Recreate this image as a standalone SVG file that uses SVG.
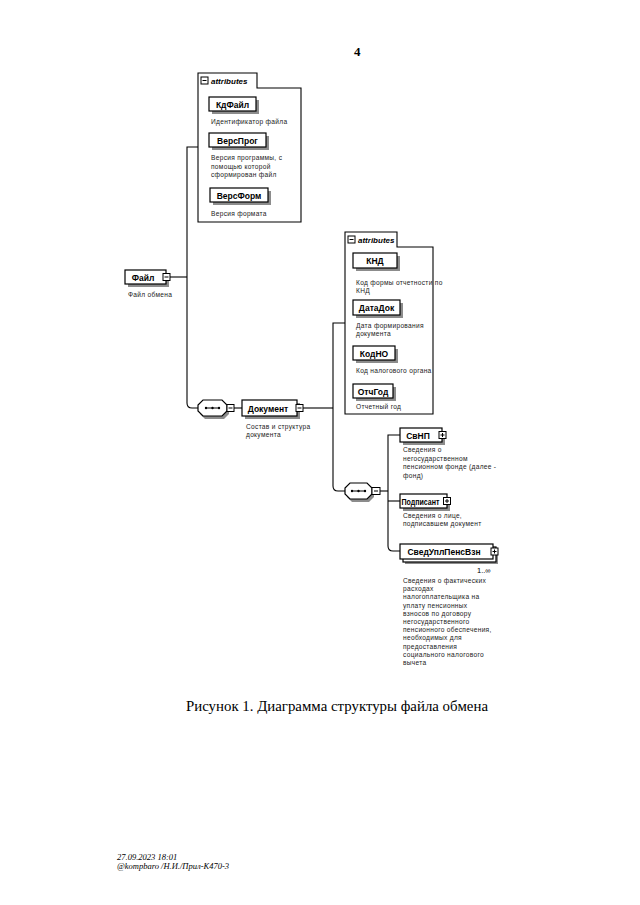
<svg xmlns="http://www.w3.org/2000/svg" width="640" height="905" viewBox="0 0 640 905">
<style>
.bx{fill:#fff;stroke:#000;stroke-width:1.2}
.sh{fill:#8c8c8c}
.ln{fill:none;stroke:#000;stroke-width:1.1}
.lb{font-family:"Liberation Sans",Arial,sans-serif;font-weight:bold;font-size:8.5px;fill:#000;text-anchor:middle}
.ds{font-family:"Liberation Sans",Arial,sans-serif;font-size:6.6px;fill:#222;letter-spacing:0.3px}
.at{font-family:"Liberation Sans",Arial,sans-serif;font-style:italic;font-weight:bold;font-size:8px;fill:#000}
.ic{fill:#fff;stroke:#000;stroke-width:1}
.sg{stroke:#000;stroke-width:1;fill:none}
</style>
<rect width="640" height="905" fill="#fff"/>
<text x="354" y="56" font-family="Liberation Serif,serif" font-size="13" font-weight="bold">4</text>

<g id="connectors">
<path class="ln" d="M170,277 H187"/>
<path class="ln" d="M198,147 H187 V403 Q187,408 192,408 H198"/>
<path class="ln" d="M234,408 H242"/>
<path class="ln" d="M303,408 H333"/>
<path class="ln" d="M345,323 H333 V486 Q333,491 338,491 H345"/>
<path class="ln" d="M380,491 H388"/>
<path class="ln" d="M400,435 H388 V546 Q388,551 393,551 H400"/>
<path class="ln" d="M388,501 H400"/>
</g>

<g id="attributes1">
<path class="ln" d="M198,88 V73 H257 V88 H301 V222 H198 Z" fill="#fff"/>
<rect class="ic" x="201" y="77" width="7" height="7"/>
<path class="sg" d="M202.5,80.5 H206.5"/>
<text class="at" x="211" y="83.5">attributes</text>
</g>
<g id="КдФайл">
<rect class="sh" x="212" y="100" width="47" height="14"/>
<rect class="bx" x="209" y="97" width="47" height="14"/>
<text class="lb" x="232.5" y="107.5">КдФайл</text>
<text class="ds" x="211" y="124">Идентификатор файла</text>
</g>
<g id="ВерсПрог">
<rect class="sh" x="212" y="136" width="57" height="14"/>
<rect class="bx" x="209" y="133" width="57" height="14"/>
<text class="lb" x="237.5" y="143.5">ВерсПрог</text>
<text class="ds" x="211" y="160">Версия программы, с</text>
<text class="ds" x="211" y="168.5">помощью которой</text>
<text class="ds" x="211" y="177">сформирован файл</text>
</g>
<g id="ВерсФорм">
<rect class="sh" x="213" y="191" width="58" height="14"/>
<rect class="bx" x="210" y="188" width="58" height="14"/>
<text class="lb" x="239" y="198.5">ВерсФорм</text>
<text class="ds" x="211" y="216">Версия формата</text>
</g>

<g id="Файл">
<rect class="sh" x="128" y="273" width="41" height="14"/>
<rect class="bx" x="125" y="270" width="41" height="14"/>
<text class="lb" x="143" y="280.5">Файл</text>
<rect class="ic" x="163" y="273.5" width="7" height="7"/>
<path class="sg" d="M164.5,277 H168.5"/>
<text class="ds" x="128" y="297">Файл обмена</text>
</g>

<g id="sequence1">
<polygon class="sh" points="205,403 224,403 229,408 229,414 224,419 205,419 200,414 200,408"/>
<polygon class="bx" points="203,400 222,400 227,405 227,411 222,416 203,416 198,411 198,405"/>
<path class="sg" d="M205,408 H220"/>
<circle cx="206" cy="408" r="1.2"/><circle cx="212.5" cy="408" r="1.2"/><circle cx="219" cy="408" r="1.2"/>
<rect class="ic" x="227" y="404.5" width="7" height="7"/>
<path class="sg" d="M228.5,408 H232.5"/>
</g>

<g id="Документ">
<rect class="sh" x="245" y="403" width="55" height="16"/>
<rect class="bx" x="242" y="400" width="55" height="16"/>
<text class="lb" x="268" y="411.5">Документ</text>
<rect class="ic" x="296" y="404.5" width="7" height="7"/>
<path class="sg" d="M297.5,408 H301.5"/>
<text class="ds" x="246" y="429">Состав и структура</text>
<text class="ds" x="246" y="437">документа</text>
</g>

<g id="attributes2">
<path class="ln" d="M345,247 V232 H397 V247 H433 V414 H345 Z" fill="#fff"/>
<rect class="ic" x="348" y="236" width="7" height="7"/>
<path class="sg" d="M349.5,239.5 H353.5"/>
<text class="at" x="358" y="242.5">attributes</text>
</g>
<g id="КНД">
<rect class="sh" x="356" y="256" width="44" height="15"/>
<rect class="bx" x="353" y="253" width="44" height="15"/>
<text class="lb" x="375" y="264">КНД</text>
<text class="ds" x="356" y="285">Код формы отчетности по</text>
<text class="ds" x="356" y="293">КНД</text>
</g>
<g id="ДатаДок">
<rect class="sh" x="356" y="303" width="47" height="15"/>
<rect class="bx" x="353" y="300" width="47" height="15"/>
<text class="lb" x="376.5" y="311">ДатаДок</text>
<text class="ds" x="356" y="328">Дата формирования</text>
<text class="ds" x="356" y="336">документа</text>
</g>
<g id="КодНО">
<rect class="sh" x="356" y="349" width="42" height="14"/>
<rect class="bx" x="353" y="346" width="42" height="14"/>
<text class="lb" x="374" y="356.5">КодНО</text>
<text class="ds" x="356" y="373">Код налогового органа</text>
</g>
<g id="ОтчГод">
<rect class="sh" x="356" y="387" width="40" height="14"/>
<rect class="bx" x="353" y="384" width="40" height="14"/>
<text class="lb" x="373" y="394.5">ОтчГод</text>
<text class="ds" x="356" y="409">Отчетный год</text>
</g>

<g id="sequence2">
<polygon class="sh" points="352,486 369,486 374,491 374,497 369,502 352,502 347,497 347,491"/>
<polygon class="bx" points="350,483 367,483 372,488 372,494 367,499 350,499 345,494 345,488"/>
<path class="sg" d="M351,491 H366"/>
<circle cx="352" cy="491" r="1.2"/><circle cx="358.5" cy="491" r="1.2"/><circle cx="365" cy="491" r="1.2"/>
<rect class="ic" x="372" y="487.5" width="8" height="7"/>
<path class="sg" d="M374,491 H378"/>
</g>

<g id="СвНП">
<rect class="sh" x="403" y="431" width="42" height="14"/>
<rect class="bx" x="400" y="428" width="42" height="14"/>
<text class="lb" x="418" y="438.5">СвНП</text>
<rect class="ic" x="439" y="431.5" width="7" height="7"/>
<path class="sg" d="M440.5,435 H444.5 M442.5,433 V437"/>
<text class="ds" x="403" y="452">Сведения о</text>
<text class="ds" x="403" y="460.5">негосударственном</text>
<text class="ds" x="403" y="469">пенсионном фонде (далее -</text>
<text class="ds" x="403" y="477.5">фонд)</text>
</g>

<g id="Подписант">
<rect class="sh" x="403" y="497" width="47" height="14"/>
<rect class="bx" x="400" y="494" width="47" height="14"/>
<text class="lb" x="420.5" y="504.5" textLength="38" lengthAdjust="spacingAndGlyphs">Подписант</text>
<rect class="ic" x="443.5" y="497.5" width="7" height="7"/>
<path class="sg" d="M445,501 H449 M447,499 V503"/>
<text class="ds" x="403" y="518">Сведения о лице,</text>
<text class="ds" x="403" y="526">подписавшем документ</text>
</g>

<g id="СведУплПенсВзн">
<rect class="sh" x="405" y="549" width="93" height="15"/>
<rect class="bx" x="403" y="547" width="93" height="15"/>
<rect class="bx" x="400" y="544" width="93" height="15"/>
<text class="lb" x="444" y="554.5">СведУплПенсВзн</text>
<rect class="ic" x="491" y="548" width="7" height="7"/>
<path class="sg" d="M492.5,551.5 H496.5 M494.5,549.5 V553.5"/>
<text x="477" y="573" font-family="Liberation Sans,Arial,sans-serif" font-size="7.5px">1..∞</text>
<text class="ds" x="403" y="583">Сведения о фактических</text>
<text class="ds" x="403" y="591.2">расходах</text>
<text class="ds" x="403" y="599.4">налогоплательщика на</text>
<text class="ds" x="403" y="607.6">уплату пенсионных</text>
<text class="ds" x="403" y="615.8">взносов по договору</text>
<text class="ds" x="403" y="624">негосударственного</text>
<text class="ds" x="403" y="632.2">пенсионного обеспечения,</text>
<text class="ds" x="403" y="640.4">необходимых для</text>
<text class="ds" x="403" y="648.6">предоставления</text>
<text class="ds" x="403" y="656.8">социального налогового</text>
<text class="ds" x="403" y="665">вычета</text>
</g>

<text x="186" y="711" font-family="Liberation Serif,serif" font-size="15" textLength="302" lengthAdjust="spacingAndGlyphs">Рисунок 1. Диаграмма структуры файла обмена</text>
<text x="117" y="860" font-family="Liberation Serif,serif" font-style="italic" font-size="8.5">27.09.2023 18:01</text>
<text x="117" y="869" font-family="Liberation Serif,serif" font-style="italic" font-size="8.5">@kompbaro /Н.И./Прил-К470-3</text>
</svg>
